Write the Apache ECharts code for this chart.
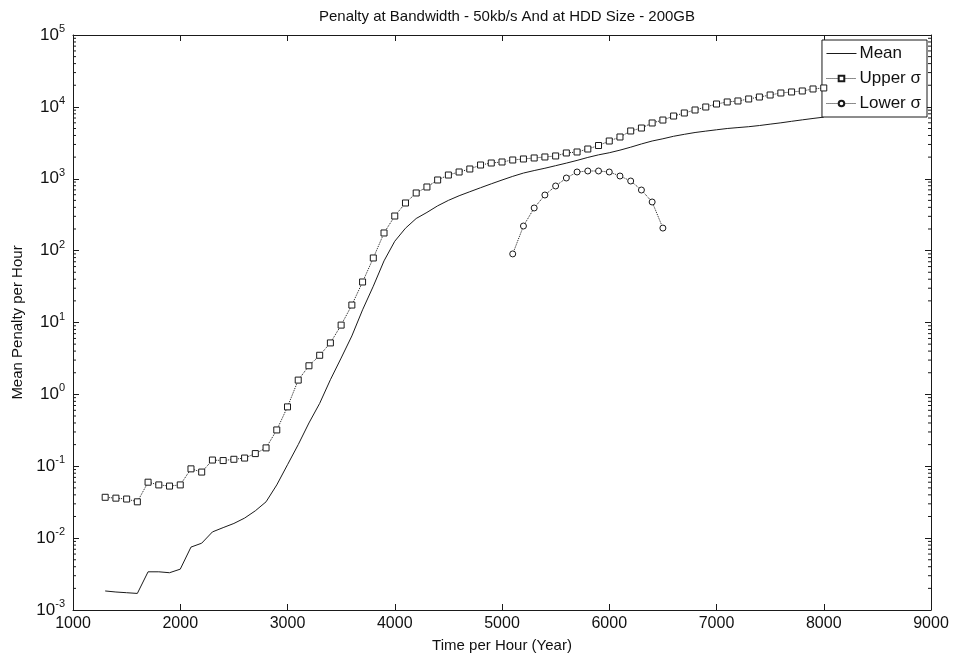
<!DOCTYPE html>
<html>
<head>
<meta charset="utf-8">
<script src="https://cdn.jsdelivr.net/npm/echarts@6/dist/echarts.min.js"></script>
<style>
  html, body { margin: 0; padding: 0; background: #fff; }
  #chart { width: 959px; height: 658px; }
</style>
</head>
<body>
<div id="chart"></div>
<script>
// x positions (year) of the mean / upper sigma samples
const years = [
  1300, 1400, 1500, 1600, 1700, 1800, 1900, 2000, 2100, 2200,
  2300, 2400, 2500, 2600, 2700, 2800, 2900, 3000, 3100, 3200,
  3300, 3400, 3500, 3600, 3700, 3800, 3900, 4000, 4100, 4200,
  4300, 4400, 4500, 4600, 4700, 4800, 4900, 5000, 5100, 5200,
  5300, 5400, 5500, 5600, 5700, 5800, 5900, 6000, 6100, 6200,
  6300, 6400, 6500, 6600, 6700, 6800, 6900, 7000, 7100, 7200,
  7300, 7400, 7500, 7600, 7700, 7800, 7900, 8000
];
const meanValues = [
  0.00184, 0.00178, 0.00174, 0.0017, 0.0034, 0.0034, 0.0033, 0.0037, 0.0075, 0.0085,
  0.0122, 0.014, 0.016, 0.019, 0.024, 0.032, 0.055, 0.105, 0.2, 0.4,
  0.75, 1.6, 3.2, 6.5, 15, 32, 72, 135, 205, 280,
  340, 420, 500, 580, 660, 750, 850, 960, 1080, 1200,
  1300, 1400, 1520, 1650, 1800, 1980, 2150, 2300, 2500, 2750,
  3050, 3350, 3600, 3900, 4150, 4400, 4600, 4800, 5000, 5150,
  5300, 5500, 5750, 6000, 6300, 6600, 6900, 7200
];
const upperValues = [
  0.037, 0.036, 0.035, 0.032, 0.06, 0.055, 0.053, 0.055, 0.092, 0.083,
  0.122, 0.12, 0.125, 0.13, 0.15, 0.18, 0.32, 0.67, 1.58, 2.5,
  3.5, 5.2, 9.2, 17.5, 36.6, 79, 176, 303, 460, 634,
  768, 961, 1127, 1242, 1367, 1553, 1656, 1711, 1824, 1884,
  1945, 2009, 2075, 2283, 2357, 2593, 2900, 3350, 3810, 4620,
  5080, 5970, 6560, 7460, 8220, 9050, 9960, 10960, 11700, 12080,
  12880, 13720, 14630, 15600, 16120, 16640, 17740, 18330
];
const lowerYears = [5100, 5200, 5300, 5400, 5500, 5600, 5700, 5800, 5900, 6000, 6100, 6200, 6300, 6400, 6500];
const lowerValues = [90, 220, 392, 594, 793, 1024, 1242, 1282, 1282, 1242, 1092, 930, 697, 475, 206];

const minorDecades = [-3, -2, -1, 0, 1, 2, 3, 4];
const minorMults = [2, 3, 4, 5, 6, 7, 8, 9];

const FONT = 'Liberation Sans';
const INK = '#1a1a1a';

const pairs = (xs, ys) => xs.map((x, i) => [x, ys[i]]);

const minorTickData = [];
minorDecades.forEach(k => minorMults.forEach(m => minorTickData.push([1000, m * Math.pow(10, k)])));

const powLabel = v => {
  const e = Math.round(Math.log10(v));
  return '{b|10}{e|' + e + '}';
};

const myChart = echarts.init(document.getElementById('chart'));

const yBase = {
  type: 'log',
  logBase: 10,
  min: 0.001,
  max: 100000,
  splitNumber: 8,
  axisLine: { show: true, lineStyle: { color: INK, width: 1 } },
  axisTick: { show: true, inside: true, length: 6, lineStyle: { color: INK } },
  splitLine: { show: false }
};

const option = {
  animation: false,
  backgroundColor: '#fff',
  textStyle: { fontFamily: FONT },
  title: {
    text: 'Penalty at Bandwidth - 50kb/s And at HDD Size - 200GB',
    left: 502,
    top: 4,
    textAlign: 'center',
    textStyle: { fontFamily: FONT, fontSize: 15, fontWeight: 'normal', color: '#111' }
  },
  grid: { left: 73, right: 28, top: 35, bottom: 48 },
  legend: {
    orient: 'vertical',
    right: 32,
    top: 40,
    data: [
      { name: 'Mean', itemStyle: { opacity: 0 }, lineStyle: { width: 1, type: 'solid' } },
      { name: 'Upper σ', lineStyle: { width: 1, type: 'dotted' } },
      { name: 'Lower σ', lineStyle: { width: 1, type: 'dotted' } }
    ],
    backgroundColor: '#fff',
    borderColor: INK,
    borderWidth: 1,
    borderRadius: 0,
    padding: [5, 6, 5, 4],
    itemGap: 8,
    itemWidth: 30,
    itemHeight: 7,
    textStyle: { fontFamily: FONT, fontSize: 17, color: '#111', padding: [0, 0, 0, -2] }
  },
  xAxis: [
    {
      type: 'value',
      min: 1000,
      max: 9000,
      interval: 1000,
      name: 'Time per Hour (Year)',
      nameLocation: 'middle',
      nameGap: 28,
      nameTextStyle: { fontFamily: FONT, fontSize: 15, color: '#111' },
      axisLine: { show: true, onZero: false, lineStyle: { color: INK } },
      axisTick: { show: true, inside: true, length: 6, lineStyle: { color: INK } },
      axisLabel: { fontFamily: FONT, fontSize: 16, color: '#111', margin: 6, formatter: v => String(v) },
      splitLine: { show: false }
    },
    {
      type: 'value',
      position: 'top',
      min: 1000,
      max: 9000,
      interval: 1000,
      axisLine: { show: true, onZero: false, lineStyle: { color: INK } },
      axisTick: { show: true, inside: true, length: 6, lineStyle: { color: INK } },
      axisLabel: { show: false },
      splitLine: { show: false }
    }
  ],
  yAxis: [
    Object.assign({}, yBase, {
      name: 'Mean Penalty per Hour',
      nameLocation: 'middle',
      nameGap: 46,
      nameTextStyle: { fontFamily: FONT, fontSize: 15, color: '#111' },
      axisLabel: {
        margin: 8,
        formatter: powLabel,
        rich: {
          b: { fontFamily: FONT, fontSize: 17, color: '#111' },
          e: { fontFamily: FONT, fontSize: 11, color: '#111', padding: [0, 0, 12, 0] }
        }
      }
    }),
    Object.assign({}, yBase, {
      position: 'right',
      axisLabel: { show: false }
    })
  ],
  series: [
    {
      name: 'Mean',
      type: 'line',
      data: pairs(years, meanValues),
      symbol: 'circle',
      symbolSize: 2,
      showSymbol: false,
      lineStyle: { color: INK, width: 1 },
      itemStyle: { color: INK },
      z: 3
    },
    {
      name: 'Upper σ',
      type: 'line',
      data: pairs(years, upperValues),
      symbol: 'rect',
      symbolSize: 6,
      lineStyle: { color: INK, width: 1, type: 'dotted' },
      itemStyle: { color: '#fff', borderColor: INK, borderWidth: 1 },
      z: 4
    },
    {
      name: 'Lower σ',
      type: 'line',
      data: pairs(lowerYears, lowerValues),
      symbol: 'circle',
      symbolSize: 6,
      lineStyle: { color: INK, width: 1, type: 'dotted' },
      itemStyle: { color: '#fff', borderColor: INK, borderWidth: 1 },
      z: 4
    },
    {
      // log minor ticks on the left and right box edges
      type: 'custom',
      silent: true,
      data: minorTickData,
      renderItem: (params, api) => {
        const l = api.coord([1000, api.value(1)]);
        const r = api.coord([9000, api.value(1)]);
        return {
          type: 'group',
          children: [
            { type: 'line', shape: { x1: l[0], y1: l[1], x2: l[0] + 3, y2: l[1] }, style: { stroke: INK, lineWidth: 1 } },
            { type: 'line', shape: { x1: r[0] - 3, y1: r[1], x2: r[0], y2: r[1] }, style: { stroke: INK, lineWidth: 1 } }
          ]
        };
      },
      z: 2
    }
  ]
};

myChart.setOption(option);
</script>
</body>
</html>
